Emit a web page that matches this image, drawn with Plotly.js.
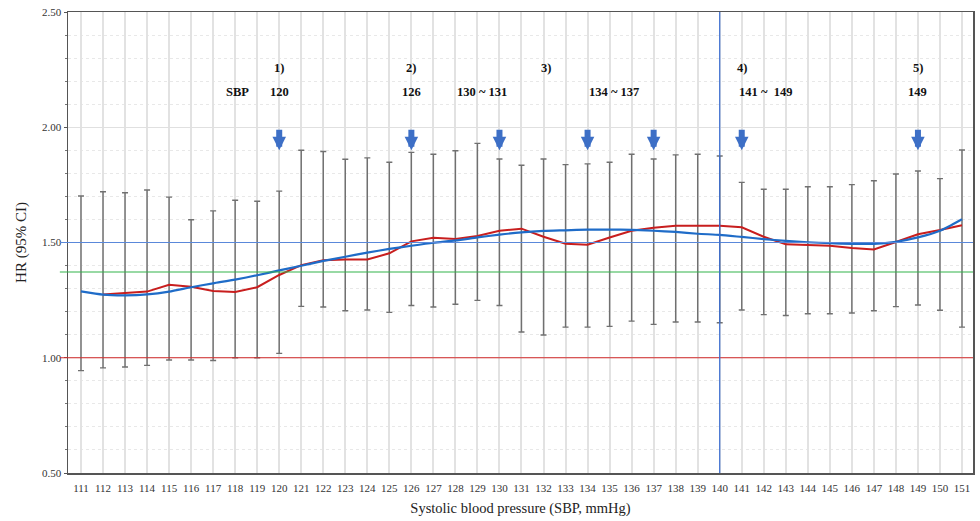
<!DOCTYPE html>
<html><head><meta charset="utf-8">
<script src="https://cdn.plot.ly/plotly-3.0.1.min.js"></script>
<style>html,body{margin:0;padding:0;background:#fff}#chart{width:980px;height:521px}</style>
</head><body><div id="chart"></div>
<script>
const sbp = [111,112,113,114,115,116,117,118,119,120,121,122,123,124,125,126,127,128,129,130,131,132,133,134,135,136,137,138,139,140,141,142,143,144,145,146,147,148,149,150,151];
const ciHigh = [1.702,1.720,1.716,1.728,1.697,1.599,1.637,1.683,1.679,1.723,1.900,1.895,1.861,1.867,1.848,1.891,1.883,1.898,1.930,1.862,1.835,1.862,1.838,1.841,1.848,1.883,1.862,1.880,1.883,1.875,1.761,1.731,1.731,1.742,1.742,1.751,1.768,1.797,1.810,1.777,1.901];
const ciLow = [0.944,0.956,0.960,0.967,0.990,0.990,0.988,1.000,1.000,1.019,1.223,1.220,1.204,1.207,1.197,1.227,1.220,1.232,1.249,1.227,1.112,1.099,1.133,1.133,1.136,1.159,1.145,1.155,1.155,1.152,1.207,1.187,1.183,1.191,1.191,1.194,1.204,1.222,1.229,1.206,1.133];
const hrObserved = [null,1.274,1.282,1.287,1.317,1.308,1.290,1.285,1.306,1.359,1.402,1.423,1.426,1.426,1.453,1.505,1.521,1.515,1.528,1.551,1.560,1.525,1.495,1.490,1.522,1.551,1.564,1.573,1.573,1.573,1.566,1.525,1.492,1.490,1.486,1.476,1.470,1.502,1.536,1.554,1.575];
const hrSmooth = [1.288,1.274,1.271,1.275,1.287,1.306,1.323,1.339,1.358,1.379,1.399,1.420,1.438,1.456,1.472,1.486,1.499,1.509,1.522,1.534,1.544,1.550,1.553,1.556,1.556,1.555,1.551,1.546,1.538,1.533,1.524,1.515,1.507,1.501,1.497,1.494,1.494,1.503,1.522,1.551,1.601];
const refLines = [{y:1.00,color:'#d42a2a'},{y:1.372,color:'#33b34a'},{y:1.50,color:'#5a88da'}];
const verticalRef = 140;
const arrowSBP = [120,126,130,134,137,141,149];
const groupLabels = [{x:120,text:'1)'},{x:126,text:'2)'},{x:132.1,text:'3)'},{x:141,text:'4)'},{x:149,text:'5)'}];
const rangeLabels = [{x:118.1,text:'SBP'},{x:120,text:'120'},{x:126,text:'126'},{x:129.2,text:'130 ~ 131'},{x:135.2,text:'134 ~ 137'},{x:142.1,text:'141 ~  149'},{x:149,text:'149'}];

const serif = 'Liberation Serif, Times New Roman, serif';
const mid = sbp.map((s,i)=>(ciHigh[i]+ciLow[i])/2);
const half = sbp.map((s,i)=>(ciHigh[i]-ciLow[i])/2);

const traces = [
  {x:sbp, y:mid, type:'scatter', mode:'markers', marker:{size:1,opacity:0},
   error_y:{type:'data', array:half, symmetric:true, color:'#707070', thickness:1.4, width:3},
   hoverinfo:'skip', showlegend:false},
  {x:sbp, y:hrObserved, type:'scatter', mode:'lines', line:{color:'#c81e1e', width:2}, showlegend:false, connectgaps:false},
  {x:sbp, y:hrSmooth, type:'scatter', mode:'lines', line:{color:'#1f6cc8', width:2.2, shape:'spline', smoothing:0.6}, showlegend:false}
];

const shapes = refLines.map(r=>({type:'line', xref:'paper', yref:'y', x0:-0.009, x1:1, y0:r.y, y1:r.y, line:{color:r.color, width:1.2}, layer:'above'}));
shapes.push({type:'line', xref:'x', yref:'paper', x0:verticalRef, x1:verticalRef, y0:0, y1:1, line:{color:'#3c6fd2', width:1.2}});

const annotations = [];
arrowSBP.forEach(s=>annotations.push({x:s, y:1.90, xref:'x', yref:'y', showarrow:true, ax:0, ay:-22, arrowhead:2, arrowsize:0.45, arrowwidth:6, arrowcolor:'#3d6fc6', text:''}));
groupLabels.forEach(g=>annotations.push({x:g.x, y:2.257, xref:'x', yref:'y', text:g.text, showarrow:false, font:{family:serif, size:12.5, color:'#111'}}));
rangeLabels.forEach(g=>annotations.push({x:g.x, y:2.153, xref:'x', yref:'y', text:g.text, showarrow:false, font:{family:serif, size:12.5, color:'#111'}}));
annotations.forEach(a=>{ if(a.text) a.text = '<b>'+a.text+'</b>'; });

const layout = {
  width:980, height:521,
  margin:{l:68, r:7, t:12, b:48},
  paper_bgcolor:'#fff', plot_bgcolor:'#fff',
  font:{family:serif, color:'#333'},
  xaxis:{range:[110.41,151.5], tickvals:sbp, ticktext:sbp.map(String), tickfont:{family:serif, size:11, color:'#333'},
    showgrid:true, gridcolor:'#e2e2e2', gridwidth:2, zeroline:false,
    showline:true, linecolor:'#555', linewidth:1.5, mirror:true, ticks:'', ticklen:0, ticklabelstandoff:4,
    title:{text:'Systolic blood pressure (SBP, mmHg)', font:{family:serif, size:14.5, color:'#222'}, standoff:10}},
  yaxis:{range:[0.5,2.5], dtick:0.5, tick0:0.5, tickformat:'.2f', tickfont:{family:serif, size:11, color:'#333'},
    showgrid:true, gridcolor:'#e0e0e0', gridwidth:1, zeroline:false,
    showline:true, linecolor:'#555', linewidth:1.5, mirror:true, ticks:'outside', ticklen:3, tickcolor:'#555',
    minor:{dtick:0.1, showgrid:true, gridcolor:'#e8e8e8', griddash:'dot', ticks:'outside', ticklen:2, tickcolor:'#777'},
    title:{text:'HR (95% CI)', font:{family:serif, size:15, color:'#222'}, standoff:12}},
  shapes:shapes, annotations:annotations, showlegend:false
};
Plotly.newPlot('chart', traces, layout, {displayModeBar:false, staticPlot:true});
</script></body></html>
